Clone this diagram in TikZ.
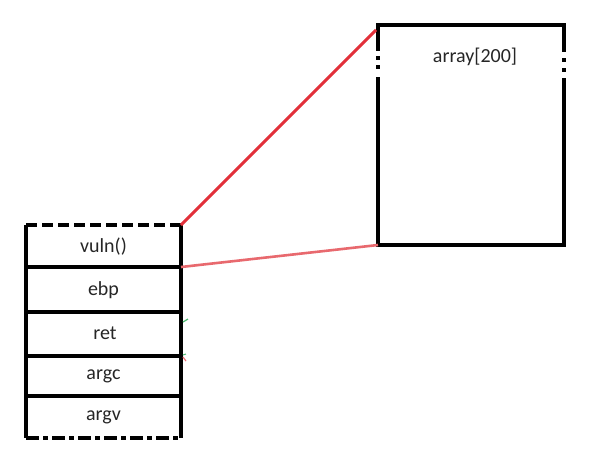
\documentclass[tikz,border=0pt]{standalone}
\usepackage{fontspec}
\setmainfont{Carlito}
\definecolor{redA}{HTML}{E2303A}
\definecolor{redB}{HTML}{E8696E}
\definecolor{greenA}{HTML}{4CB870}
\begin{document}
\begin{tikzpicture}[x=1pt,y=-1pt,
  cell/.style={font=\fontsize{20}{24}\selectfont, inner sep=0pt, text=black!85},
  frame/.style={line width=3.2pt, black},
  thick box/.style={line width=4pt, black},
  link/.style={line width=3pt, redA},
  linkb/.style={line width=2.6pt, redB}]
\useasboundingbox (0,0) rectangle (589,456);
% stack coordinates
\coordinate (sTL) at (26,225);
\coordinate (sTR) at (181,225);
\coordinate (sBL) at (26,438);
\coordinate (sBR) at (181,438);
\coordinate (r1L) at (26,267);  \coordinate (r1R) at (181,267);
\coordinate (r2L) at (26,312);  \coordinate (r2R) at (181,312);
\coordinate (r3L) at (26,356);  \coordinate (r3R) at (181,356);
\coordinate (r4L) at (26,396);  \coordinate (r4R) at (181,396);
% stack frame
\draw[frame, dash pattern=on 11pt off 5pt] (sTL) -- (sTR);
\draw[frame, dash pattern=on 13pt off 4pt on 5pt off 4pt] (sBL) -- (sBR);
\draw[frame] (sTL) -- (sBL);
\draw[frame] (sTR) -- (sBR);
\draw[frame] (r1L) -- (r1R);
\draw[frame] (r2L) -- (r2R);
\draw[frame] (r3L) -- (r3R);
\draw[frame] (r4L) -- (r4R);
% cell labels
\node[cell] (vuln) at (103.5,247) {vuln()};
\node[cell] (ebp)  at (103.5,290) {ebp};
\node[cell] (ret)  at (105,333) {ret};
\node[cell] (argc) at (103.5,376) {argc};
\node[cell] (argv) at (103.5,417) {argv};
% array box
\coordinate (bTL) at (378,25);
\coordinate (bTR) at (564,25);
\coordinate (bBL) at (378,245);
\coordinate (bBR) at (564,245);
\draw[thick box] ([xshift=-2pt]bTL) -- ([xshift=2pt]bTR);
\draw[thick box] ([xshift=-2pt]bBL) -- ([xshift=2pt]bBR);
\draw[thick box] (bTL) -- (378,51) (378,56) -- (378,60) (378,65) -- (378,69) (378,77) -- (bBL);
\draw[thick box] (bTR) -- (564,52) (564,58) -- (564,62) (564,68) -- (564,72) (564,78) -- (bBR);
\node[cell] (arr) at (475,57) {array[200]};
% red connectors
\draw[link] (sTR) -- (376,30);
\draw[linkb] (r1R) -- (bBL);
% small marks
\draw[greenA, line width=1.2pt] (183,322) -- (188,319);
\draw[greenA, line width=1pt] (183,355) -- (186,354);
\draw[redA!70, line width=1.2pt] (183,357) -- (186,361);
\end{tikzpicture}
\end{document}
